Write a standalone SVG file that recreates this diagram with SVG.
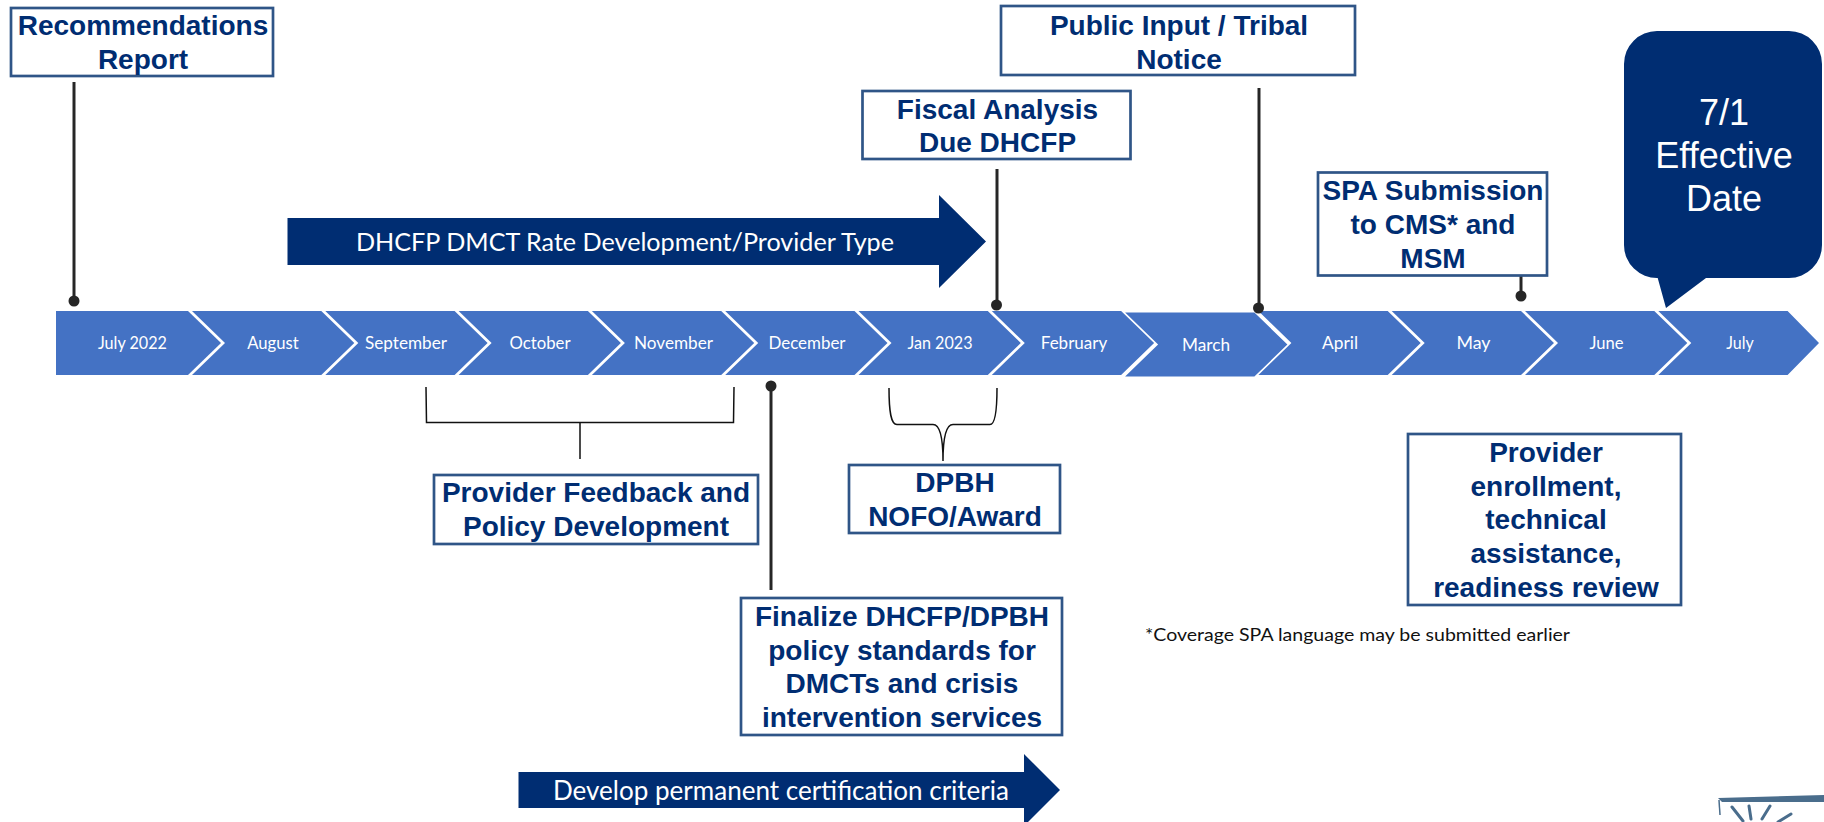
<svg xmlns="http://www.w3.org/2000/svg" width="1824" height="822" viewBox="0 0 1824 822">
<style>
.chev{fill:#4472c4}
.mon{font-family:"Lato","Open Sans",sans-serif;font-size:17px;fill:#fff;text-anchor:middle}
.box{fill:#fff;stroke:#2f5587;stroke-width:2.7}
.lbl{font-family:"Liberation Sans",Arial,sans-serif;font-weight:700;font-size:28px;fill:#002d72;text-anchor:middle}
.navy{fill:#002d72}
.arw{font-family:"Lato","Open Sans",sans-serif;fill:#fff}
.stem{stroke:#262626;stroke-width:3;fill:none}
.dot{fill:#262626}
.br{stroke:#111;stroke-width:1.5;fill:none}
.call{font-family:"Liberation Sans",Arial,sans-serif;font-size:36px;fill:#fff;text-anchor:middle}
.note{font-family:"Lato","Open Sans",sans-serif;font-size:18px;fill:#111}
.ray{stroke:#4a6d8c;stroke-width:3;stroke-linecap:round;fill:none}
</style>
<rect width="1824" height="822" fill="#fff"/>
<g id="timeline">
<g id="m-jul22"><polygon class="chev" points="56,311 188,311 221,343 188,375 56,375"/><text class="mon" x="132.500" y="348.500" textLength="69" lengthAdjust="spacingAndGlyphs">July 2022</text></g>
<g id="m-aug"><polygon class="chev" points="192,311 321.300,311 354.300,343 321.300,375 192,375 225,343"/><text class="mon" x="273" y="348.500" textLength="51.500" lengthAdjust="spacingAndGlyphs">August</text></g>
<g id="m-sep"><polygon class="chev" points="325.300,311 454.600,311 487.600,343 454.600,375 325.300,375 358.300,343"/><text class="mon" x="406" y="348.500" textLength="82" lengthAdjust="spacingAndGlyphs">September</text></g>
<g id="m-oct"><polygon class="chev" points="458.600,311 587.900,311 620.900,343 587.900,375 458.600,375 491.600,343"/><text class="mon" x="540" y="348.500" textLength="61" lengthAdjust="spacingAndGlyphs">October</text></g>
<g id="m-nov"><polygon class="chev" points="591.900,311 721.200,311 754.200,343 721.200,375 591.900,375 624.900,343"/><text class="mon" x="673.500" y="348.500" textLength="79" lengthAdjust="spacingAndGlyphs">November</text></g>
<g id="m-dec"><polygon class="chev" points="725.200,311 854.500,311 887.500,343 854.500,375 725.200,375 758.200,343"/><text class="mon" x="807" y="348.500" textLength="77" lengthAdjust="spacingAndGlyphs">December</text></g>
<g id="m-jan"><polygon class="chev" points="858.500,311 987.800,311 1020.800,343 987.800,375 858.500,375 891.500,343"/><text class="mon" x="940" y="348.500" textLength="65" lengthAdjust="spacingAndGlyphs">Jan 2023</text></g>
<g id="m-feb"><polygon class="chev" points="991.800,311 1121.100,311 1154.100,343 1121.100,375 991.800,375 1024.800,343"/><text class="mon" x="1074" y="348.500" textLength="66.500" lengthAdjust="spacingAndGlyphs">February</text></g>
<g id="m-mar"><polygon class="chev" points="1125.100,312.500 1254.400,312.500 1287.400,344.500 1254.400,376.500 1125.100,376.500 1158.100,344.500"/><text class="mon" x="1206" y="350.500" textLength="48" lengthAdjust="spacingAndGlyphs">March</text></g>
<g id="m-apr"><polygon class="chev" points="1258.400,311 1387.700,311 1420.700,343 1387.700,375 1258.400,375 1291.400,343"/><text class="mon" x="1340" y="348.500" textLength="36" lengthAdjust="spacingAndGlyphs">April</text></g>
<g id="m-may"><polygon class="chev" points="1391.700,311 1521,311 1554,343 1521,375 1391.700,375 1424.700,343"/><text class="mon" x="1473.500" y="348.500" textLength="34" lengthAdjust="spacingAndGlyphs">May</text></g>
<g id="m-jun"><polygon class="chev" points="1525,311 1654.300,311 1687.300,343 1654.300,375 1525,375 1558,343"/><text class="mon" x="1606.500" y="348.500" textLength="34" lengthAdjust="spacingAndGlyphs">June</text></g>
<g id="m-jul"><polygon class="chev" points="1658.300,311 1787.600,311 1819,343 1787.600,375 1658.300,375 1691.300,343"/><text class="mon" x="1740" y="348.500" textLength="27.500" lengthAdjust="spacingAndGlyphs">July</text></g>
</g>
<g id="connectors">
<path class="stem" d="M74,82V301"/><circle class="dot" cx="74" cy="301" r="5.500"/>
<path class="stem" d="M997,169V305"/><circle class="dot" cx="996.500" cy="305" r="5.500"/>
<path class="stem" d="M1259,88V308"/><circle class="dot" cx="1258.500" cy="308" r="5.500"/>
<path class="stem" d="M1521,241V296"/><circle class="dot" cx="1521" cy="296" r="5.500"/>
<path class="stem" d="M771,386V590"/><circle class="dot" cx="771" cy="386" r="5.500"/>
<path class="br" d="M426,387L426.500,422.500H733.500L734,387M580,422.500V459"/>
<path class="br" d="M889,388C889,412 891,424.500 897,424.500H933C941,424.500 943,440 943,461C943,440 945,424.500 953,424.500H990C995,424.500 997,412 997,388"/>
</g>
<g id="n-recommendations"><rect class="box" x="11" y="8" width="262" height="68"/><text class="lbl" x="143" y="35">Recommendations</text><text class="lbl" x="143" y="68.500">Report</text></g>
<g id="n-public"><rect class="box" x="1001" y="6" width="354" height="69"/><text class="lbl" x="1179" y="35">Public Input / Tribal</text><text class="lbl" x="1179" y="69">Notice</text></g>
<g id="n-fiscal"><rect class="box" x="862.500" y="91" width="268" height="68"/><text class="lbl" x="997.500" y="119">Fiscal Analysis</text><text class="lbl" x="997.500" y="152">Due DHCFP</text></g>
<g id="n-spa"><rect class="box" x="1318" y="172.500" width="229" height="103"/><text class="lbl" x="1433" y="200">SPA Submission</text><text class="lbl" x="1433" y="234">to CMS* and</text><text class="lbl" x="1433" y="267.500">MSM</text></g>
<g id="n-feedback"><rect class="box" x="434" y="475" width="324" height="69"/><text class="lbl" x="596" y="502">Provider Feedback and</text><text class="lbl" x="596" y="536">Policy Development</text></g>
<g id="n-dpbh"><rect class="box" x="849" y="465" width="211" height="68"/><text class="lbl" x="955" y="492">DPBH</text><text class="lbl" x="955" y="526">NOFO/Award</text></g>
<g id="n-finalize"><rect class="box" x="741" y="598" width="321" height="137"/><text class="lbl" x="902" y="626">Finalize DHCFP/DPBH</text><text class="lbl" x="902" y="660">policy standards for</text><text class="lbl" x="902" y="693">DMCTs and crisis</text><text class="lbl" x="902" y="727">intervention services</text></g>
<g id="n-enrollment"><rect class="box" x="1408" y="434" width="273" height="171"/><text class="lbl" x="1546" y="462">Provider</text><text class="lbl" x="1546" y="496">enrollment,</text><text class="lbl" x="1546" y="529">technical</text><text class="lbl" x="1546" y="563">assistance,</text><text class="lbl" x="1546" y="597">readiness review</text></g>
<g id="n-rate-arrow"><polygon class="navy" points="287.500,218 939,218 939,195 986,241.500 939,288 939,265 287.500,265"/><text class="arw" x="356" y="250.500" font-size="25px" textLength="538" lengthAdjust="spacingAndGlyphs">DHCFP DMCT Rate Development/Provider Type</text></g>
<g id="n-cert-arrow"><polygon class="navy" points="518.500,772 1024,772 1024,754 1060,790 1024,826 1024,808 518.500,808"/><text class="arw" x="553" y="799.500" font-size="26px" textLength="456" lengthAdjust="spacingAndGlyphs">Develop permanent certification criteria</text></g>
<g id="n-effective"><path class="navy" d="M1657,31H1789A33,33 0 0 1 1822,64V245A33,33 0 0 1 1789,278H1706L1666,308L1657.700,278A33,33 0 0 1 1624,245V64A33,33 0 0 1 1657,31Z"/><text class="call" x="1724" y="125">7/1</text><text class="call" x="1724" y="168">Effective</text><text class="call" x="1724" y="211">Date</text></g>
<g id="n-note"><text class="note" x="1145" y="640.500" textLength="425" lengthAdjust="spacingAndGlyphs">*Coverage SPA language may be submitted earlier</text></g>
<g id="logo"><polygon points="1718,798 1824,795 1824,802 1722,802" fill="#4a6d8c"/><path d="M1719,800L1720,815" stroke="#4a6d8c" stroke-width="1.500" fill="none"/><path class="ray" d="M1732,807L1743,821M1749,806L1751,819M1770,806L1762,819M1791,814L1778,822"/></g>
</svg>
